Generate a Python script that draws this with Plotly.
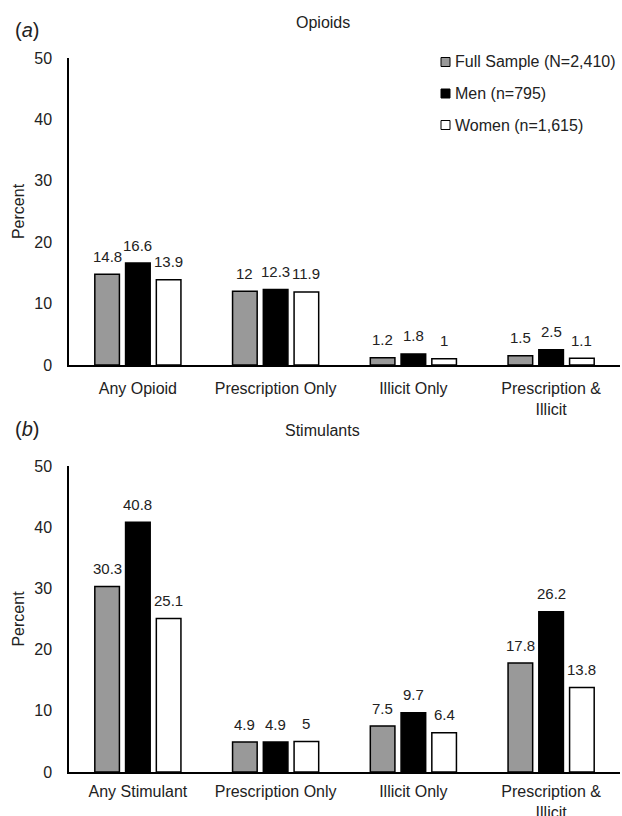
import plotly.graph_objects as go
from plotly.subplots import make_subplots

# ---- data ----
opioid_categories = ["Any Opioid", "Prescription Only", "Illicit Only", "Prescription &<br>Illicit"]
stimulant_categories = ["Any Stimulant", "Prescription Only", "Illicit Only", "Prescription &<br>Illicit"]
series_names = ["Full Sample (N=2,410)", "Men (n=795)", "Women (n=1,615)"]

opioids_full = [14.8, 12.0, 1.2, 1.5]
opioids_men = [16.6, 12.3, 1.8, 2.5]
opioids_women = [13.9, 11.9, 1.0, 1.1]

stimulants_full = [30.3, 4.9, 7.5, 17.8]
stimulants_men = [40.8, 4.9, 9.7, 26.2]
stimulants_women = [25.1, 5.0, 6.4, 13.8]

y_ticks = [0, 10, 20, 30, 40, 50]
panel_titles = ["Opioids", "Stimulants"]
panel_letters = ["(<i>a</i>)", "(<i>b</i>)"]

# ---- style ----
W, H = 622, 816
ML, MR, MT, MB = 69, 2, 58, 44
FONT = "Liberation Sans, Arial, sans-serif"
TXT = "#222222"
fills = ["#999999", "#000000", "#ffffff"]
BARGAP = 0.33
BARGROUPGAP = 0.2

plot_h = H - MT - MB
top_dom = [(772 - 365) / plot_h, 1.0]
bot_dom = [0.0, (772 - 466) / plot_h]


def py(pix_y):
    return (H - MB - pix_y) / plot_h


def px(pix_x):
    return (pix_x - ML) / (W - ML - MR)


fig = make_subplots(rows=2, cols=1)

panels = [
    (opioid_categories, [opioids_full, opioids_men, opioids_women]),
    (stimulant_categories, [stimulants_full, stimulants_men, stimulants_women]),
]

for p, (cats, vals) in enumerate(panels):
    for i, (name, v) in enumerate(zip(series_names, vals)):
        fig.add_trace(
            go.Bar(
                x=cats, y=v, name=name,
                marker=dict(color=fills[i], line=dict(color="#000000", width=1.5)),
                showlegend=False, hoverinfo="skip",
            ),
            row=p + 1, col=1,
        )

# value labels above bars
cat_w = (W - ML - MR) / 4
slot = cat_w * (1 - BARGAP) / 3
annotations = []
for p, (cats, vals) in enumerate(panels):
    xr = "x" if p == 0 else "x2"
    yr = "y" if p == 0 else "y2"
    for i, v in enumerate(vals):
        for c, val in zip(cats, v):
            annotations.append(dict(
                x=c, y=val, xref=xr, yref=yr, text=f"{val:g}",
                showarrow=False, xshift=(i - 1) * slot, yshift=18,
                yanchor="middle", xanchor="center",
                font=dict(family=FONT, size=15, color=TXT),
            ))

# panel titles and letters
annotations += [
    dict(x=px(322.5), y=py(22.5), xref="paper", yref="paper", text=panel_titles[0],
         showarrow=False, xanchor="center", yanchor="middle",
         font=dict(family=FONT, size=16, color=TXT)),
    dict(x=px(322.5), y=py(430.5), xref="paper", yref="paper", text=panel_titles[1],
         showarrow=False, xanchor="center", yanchor="middle",
         font=dict(family=FONT, size=16, color=TXT)),
    dict(x=px(13), y=py(30), xref="paper", yref="paper", text=panel_letters[0],
         showarrow=False, xanchor="left", yanchor="middle",
         font=dict(family=FONT, size=20, color=TXT)),
    dict(x=px(13), y=py(429), xref="paper", yref="paper", text=panel_letters[1],
         showarrow=False, xanchor="left", yanchor="middle",
         font=dict(family=FONT, size=20, color=TXT)),
]

# legend (drawn manually to match placement)
shapes = []
for i, (name, col) in enumerate(zip(series_names, fills)):
    cy = 62 + 31.5 * i
    shapes.append(dict(type="rect", xref="paper", yref="paper",
                       x0=px(441), x1=px(450), y0=py(cy + 4.5), y1=py(cy - 4.5),
                       fillcolor=col, line=dict(color="#000000", width=1)))
    annotations.append(dict(x=px(453), y=py(cy), xref="paper", yref="paper", text=name,
                            showarrow=False, xanchor="left", yanchor="middle",
                            font=dict(family=FONT, size=16, color=TXT)))

axis_common_y = dict(
    range=[0, 50], tickvals=y_ticks, showgrid=False, zeroline=False,
    showline=True, linecolor="#000000", linewidth=1.5,
    ticks="outside", ticklen=12, tickcolor="rgba(0,0,0,0)",
    tickfont=dict(family=FONT, size=16, color=TXT),
    title=dict(text="Percent", font=dict(family=FONT, size=16, color=TXT), standoff=6),
    automargin=False,
)
axis_common_x = dict(
    showgrid=False, zeroline=False, showline=True, linecolor="#000000", linewidth=1.5,
    ticks="outside", tickcolor="rgba(0,0,0,0)",
    tickfont=dict(family=FONT, size=16, color=TXT),
    automargin=False,
)

fig.update_layout(
    width=W, height=H,
    margin=dict(l=ML, r=MR, t=MT, b=MB, autoexpand=False),
    paper_bgcolor="#ffffff", plot_bgcolor="#ffffff",
    barmode="group", bargap=BARGAP, bargroupgap=BARGROUPGAP,
    font=dict(family=FONT, color=TXT),
    xaxis=dict(domain=[0, 1], anchor="y", ticklen=8, **axis_common_x),
    yaxis=dict(domain=top_dom, anchor="x", **axis_common_y),
    xaxis2=dict(domain=[0, 1], anchor="y2", ticklen=4, **axis_common_x),
    yaxis2=dict(domain=bot_dom, anchor="x2", **axis_common_y),
    annotations=annotations,
    shapes=shapes,
    showlegend=False,
)

fig.write_html(
    "out.html",
    config={"displayModeBar": False},
    post_script="document.body.style.margin='0';document.body.style.overflow='hidden';",
)
